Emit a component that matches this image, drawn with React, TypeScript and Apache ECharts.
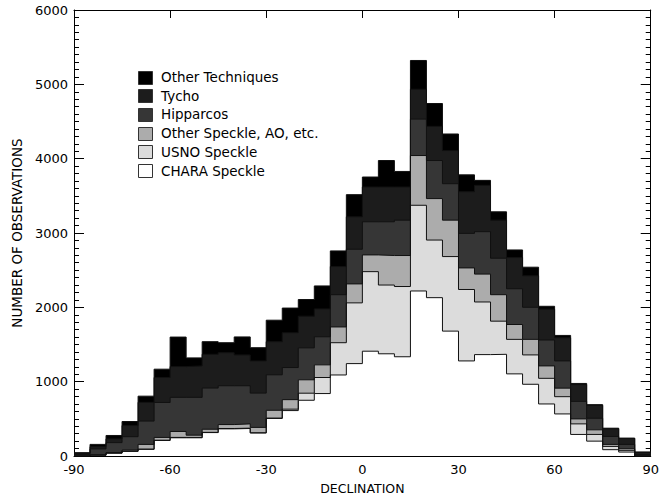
import React, { useEffect, useRef } from "react";
import * as echarts from "echarts";

// Bin left edges (degrees of declination), 5° bins
const binEdges = [
  -90, -85, -80, -75, -70, -65, -60, -55, -50, -45, -40, -35, -30, -25, -20, -15, -10, -5,
  0, 5, 10, 15, 20, 25, 30, 35, 40, 45, 50, 55, 60, 65, 70, 75, 80, 85,
];
const lastEdge = 90;

// Counts per bin for each technique (stack order bottom -> top)
const chara = [0, 10, 38, 62, 90, 209, 245, 245, 315, 365, 370, 310, 505, 611, 750, 840, 1090, 1243, 1410, 1375, 1335, 2220, 2130, 1680, 1279, 1364, 1368, 1105, 965, 700, 566, 290, 200, 85, 53, 0];
const usno = [0, 2, 2, 5, 2, 3, 5, 5, 3, 5, 5, 2, 5, 19, 95, 216, 434, 817, 1070, 925, 945, 1153, 775, 1003, 961, 708, 446, 464, 395, 345, 232, 142, 90, 44, 23, 0];
const otherSpeckle = [0, 3, 5, 13, 64, 38, 80, 30, 42, 53, 57, 73, 105, 128, 180, 170, 212, 255, 225, 397, 417, 669, 558, 490, 290, 375, 356, 200, 209, 167, 115, 67, 62, 27, 22, 0];
const hipparcos = [20, 80, 135, 180, 314, 470, 459, 509, 554, 522, 513, 461, 477, 432, 430, 378, 434, 466, 446, 454, 476, 490, 512, 490, 465, 571, 491, 481, 432, 348, 366, 236, 156, 107, 58, 20];
const tycho = [15, 30, 50, 150, 252, 336, 414, 423, 454, 445, 415, 433, 446, 468, 426, 375, 379, 437, 468, 468, 446, 402, 460, 446, 561, 623, 512, 420, 423, 415, 311, 225, 172, 102, 79, 25];
const otherTech = [10, 31, 46, 54, 83, 112, 397, 108, 170, 134, 242, 178, 289, 332, 224, 309, 210, 298, 134, 356, 209, 387, 307, 223, 226, 67, 112, 102, 116, 39, 32, 16, 11, 9, 6, 10];

const seriesNames = ["CHARA Speckle", "USNO Speckle", "Other Speckle, AO, etc.", "Hipparcos", "Tycho", "Other Techniques"];
const seriesValues = [chara, usno, otherSpeckle, hipparcos, tycho, otherTech];
const seriesColors = ["#ffffff", "#dcdcdc", "#acacac", "#363636", "#1c1c1c", "#000000"];

const xTicks = { min: -90, max: 90, interval: 30 };
const yTicks = { min: 0, max: 6000, interval: 1000 };

const FONT = "DejaVu Sans";

// cumulative (stacked) tops, bottom -> top
function cumulative(): number[][] {
  const out: number[][] = [];
  let run = binEdges.map(() => 0);
  seriesValues.forEach((vals) => {
    run = run.map((r, i) => r + vals[i]);
    out.push(run.slice());
  });
  return out;
}

function stepData(values: number[]) {
  const pts = binEdges.map((e, i) => [e, values[i]]);
  pts.push([lastEdge, values[values.length - 1]]);
  return pts;
}

export default function App() {
  const ref = useRef<HTMLDivElement>(null);
  useEffect(() => {
    if (!ref.current) return;
    const chart = echarts.init(ref.current, undefined, { renderer: "svg" });
    const cum = cumulative();

    // Draw from the top layer down so each lower layer paints over the upper ones.
    const order = [5, 4, 3, 2, 1, 0];
    const areaSeries = order.map((i) => ({
      name: seriesNames[i],
      type: "line",
      step: "end",
      symbol: "none",
      data: stepData(cum[i]),
      lineStyle: { width: 0, opacity: 0 },
      areaStyle: { color: seriesColors[i], opacity: 1, origin: "start" },
      z: 2,
      silent: true,
    }));
    const lineSeries = order.map((i) => ({
      name: seriesNames[i] + " outline",
      type: "line",
      step: "end",
      symbol: "none",
      data: stepData(cum[i]),
      lineStyle: { width: 1, color: "#111" },
      z: 3,
      silent: true,
    }));

    const legendTop = 77;
    const legendGap = 18.7;
    const legendGraphics: any[] = [];
    order.forEach((si, row) => {
      const cy = legendTop + row * legendGap;
      legendGraphics.push({
        type: "rect",
        shape: { x: 138.5, y: Math.round(cy - 6.5) + 0.5, width: 14, height: 13 },
        style: { fill: seriesColors[si], stroke: "#333", lineWidth: 1 },
        z: 10,
      });
      legendGraphics.push({
        type: "text",
        x: 161,
        y: cy,
        style: {
          text: seriesNames[si],
          fill: "#000",
          font: `13.5px "${FONT}"`,
          verticalAlign: "middle",
          align: "left",
        },
        z: 10,
      });
    });

    const axisCommon = {
      axisLine: { show: true, onZero: false, lineStyle: { color: "#000", width: 1 } },
      splitLine: { show: false },
    };

    chart.setOption({
      animation: false,
      backgroundColor: "#fff",
      grid: { left: 74, right: 7, top: 10, bottom: 41, containLabel: false },
      xAxis: [
        {
          type: "value",
          ...xTicks,
          position: "bottom",
          ...axisCommon,
          axisTick: { show: true, inside: true, length: 8, lineStyle: { color: "#000" } },
          axisLabel: { margin: 7, fontSize: 13, color: "#000", fontFamily: FONT, showMinLabel: true, showMaxLabel: true },
          name: "DECLINATION",
          nameLocation: "middle",
          nameGap: 26,
          nameTextStyle: { fontSize: 12.5, color: "#000", fontFamily: FONT },
        },
        {
          type: "value",
          ...xTicks,
          position: "top",
          ...axisCommon,
          axisTick: { show: true, inside: true, length: 8, lineStyle: { color: "#000" } },
          axisLabel: { show: false },
        },
      ],
      yAxis: [
        {
          type: "value",
          ...yTicks,
          position: "left",
          ...axisCommon,
          axisTick: { show: true, inside: true, length: 10, lineStyle: { color: "#000" } },
          minorTick: { show: true, splitNumber: 10, length: 5, lineStyle: { color: "#000" } },
          axisLabel: { margin: 6, fontSize: 13, color: "#000", fontFamily: FONT, formatter: (v: number) => String(v) },
          name: "NUMBER OF OBSERVATIONS",
          nameLocation: "middle",
          nameGap: 50,
          nameRotate: 90,
          nameTextStyle: { fontSize: 13.5, color: "#000", fontFamily: FONT },
        },
        {
          type: "value",
          ...yTicks,
          position: "right",
          ...axisCommon,
          axisTick: { show: true, inside: true, length: 10, lineStyle: { color: "#000" } },
          minorTick: { show: true, splitNumber: 10, length: 5, lineStyle: { color: "#000" } },
          axisLabel: { show: false },
        },
      ],
      series: [...areaSeries, ...lineSeries],
      graphic: legendGraphics,
    });

    return () => chart.dispose();
  }, []);

  return (
    <div
      ref={ref}
      style={{ position: "fixed", left: 0, top: 0, width: 662, height: 500, background: "#fff" }}
    />
  );
}
